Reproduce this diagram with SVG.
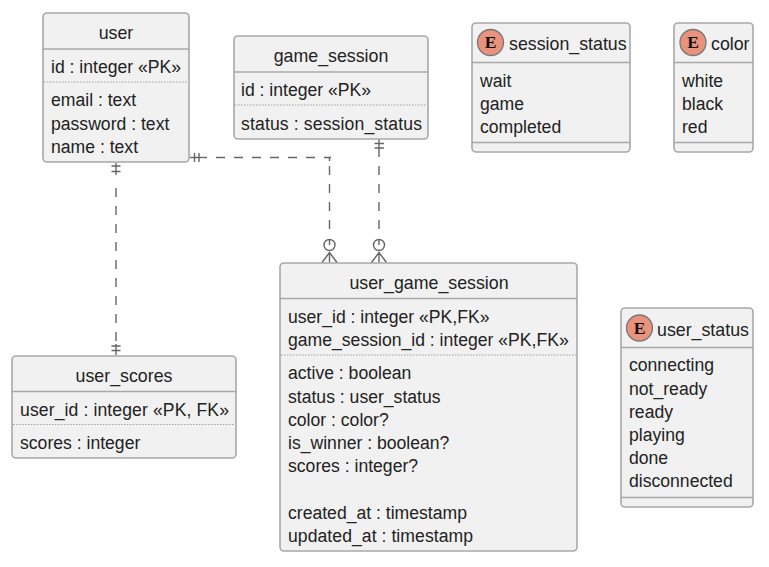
<svg xmlns="http://www.w3.org/2000/svg" width="769" height="567" viewBox="0 0 769 567">
<style>
text{font-family:"Liberation Sans",Arial,sans-serif;font-size:17.6px;fill:#222}
.t{text-anchor:middle;font-size:17.8px}
.h{font-size:17.8px}
.b{fill:#f1f1f1;stroke:#a8a8a8;stroke-width:1.6}
.s{stroke:#a8a8a8;stroke-width:1.6;fill:none}
.d{stroke:#a0a0a0;stroke-width:1;stroke-dasharray:1.5 1.5;fill:none}
.c{stroke:#666;stroke-width:1.4;fill:none}
.k{stroke-dasharray:9 9}
.e{fill:#e9937c;stroke:#777;stroke-width:1.3}
.g{font-family:"Liberation Serif",serif;font-weight:bold;font-size:17.5px;text-anchor:middle;fill:#111}
</style>
<rect width="769" height="567" fill="#fff"/>
<g id="connectors">
<path class="c" d="M116 163V175"/>
<path class="c k" d="M116 188V341"/>
<path class="c" d="M116 344V355M111.500 166H120.500M111.500 171.500H120.500M111.500 346H120.500M111.500 350.500H120.500"/>
<path class="c" d="M190 157.500H207"/>
<path class="c k" d="M216 157.500H331"/>
<path class="c" d="M194.500 153V162M199 153V162"/>
<path class="c" d="M329.500 157.500V161"/>
<path class="c k" d="M329.500 166V230"/>
<path class="c" d="M379 139V157"/>
<path class="c k" d="M379 166V230"/>
<path class="c" d="M374.500 143.500H384M374.500 148H384"/>
<g class="c"><circle cx="329.500" cy="245" r="5.500"/><path d="M329.500 239V245M329.500 252.500V262.500M322 262.500L329.500 252.500L337 262.500"/><circle cx="379" cy="245" r="5.500"/><path d="M379 239V245M379 252.500V262.500M371.500 262.500L379 252.500L386.500 262.500"/></g>
</g>
<g id="user"><rect class="b" x="43" y="13" width="146" height="149" rx="4"/><path class="s" d="M43 49H189"/><path class="d" d="M44 82H188"/>
<text class="t" x="116" y="38.500">user</text><text x="51" y="73">id : integer «PK»</text><text x="51" y="106">email : text</text><text x="51" y="129.500">password : text</text><text x="51" y="152.500">name : text</text></g>
<g id="game_session"><rect class="b" x="234" y="36" width="194" height="103" rx="4"/><path class="s" d="M234 72H428"/><path class="d" d="M235 105H427"/>
<text class="t" x="331" y="61.500">game_session</text><text x="241" y="96">id : integer «PK»</text><text x="241" y="129.500" textLength="181">status : session_status</text></g>
<g id="session_status"><rect class="b" x="472" y="23" width="158" height="129" rx="4"/><path class="s" d="M472 62.500H630M472 142.500H630"/>
<circle class="e" cx="490.500" cy="42.500" r="13"/><text class="g" x="490.500" y="48">E</text><text class="h" x="509" y="50">session_status</text><text x="480" y="87">wait</text><text x="480" y="110">game</text><text x="480" y="133">completed</text></g>
<g id="color"><rect class="b" x="674" y="23" width="79" height="129" rx="4"/><path class="s" d="M674 62.500H753M674 142.500H753"/>
<circle class="e" cx="693" cy="42.500" r="13"/><text class="g" x="693" y="48">E</text><text class="h" x="711" y="50">color</text><text x="682" y="87">white</text><text x="682" y="110">black</text><text x="682" y="133">red</text></g>
<g id="user_game_session"><rect class="b" x="280" y="263" width="297" height="288" rx="4"/><path class="s" d="M280 298.500H577"/><path class="d" d="M281 355H576"/>
<text class="t" x="429" y="288.500">user_game_session</text><text x="288" y="322.500">user_id : integer «PK,FK»</text><text x="288" y="345.500">game_session_id : integer «PK,FK»</text><text x="288" y="379">active : boolean</text><text x="288" y="402.500">status : user_status</text><text x="288" y="425.500">color : color?</text><text x="288" y="448.500">is_winner : boolean?</text><text x="288" y="471.500">scores : integer?</text><text x="288" y="518.500">created_at : timestamp</text><text x="288" y="541.500" textLength="185">updated_at : timestamp</text></g>
<g id="user_scores"><rect class="b" x="12" y="356" width="224" height="102" rx="4"/><path class="s" d="M12 391.500H236"/><path class="d" d="M13 424.500H235"/>
<text class="t" x="124" y="381.500">user_scores</text><text x="20" y="416" textLength="209">user_id : integer «PK, FK»</text><text x="20" y="449">scores : integer</text></g>
<g id="user_status"><rect class="b" x="621" y="308" width="132" height="199" rx="4"/><path class="s" d="M621 347.500H753M621 497.500H753"/>
<circle class="e" cx="639.500" cy="328" r="13"/><text class="g" x="639.500" y="333.500">E</text><text class="h" x="657" y="335.500">user_status</text><text x="629" y="371">connecting</text><text x="629" y="394.500">not_ready</text><text x="629" y="417.500">ready</text><text x="629" y="441">playing</text><text x="629" y="464">done</text><text x="629" y="487">disconnected</text></g>
</svg>
